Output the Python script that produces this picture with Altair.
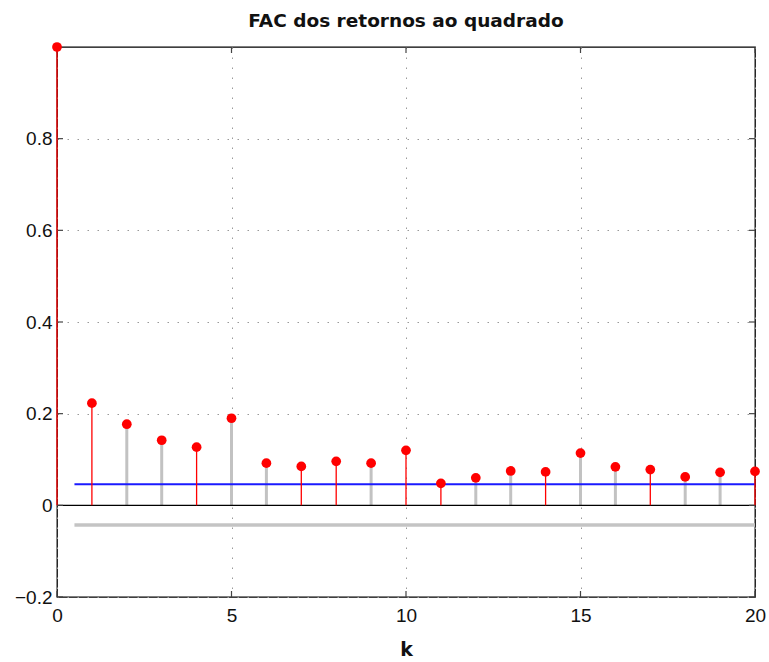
import altair as alt
import pandas as pd

# Sample autocorrelation of the squared returns, lags 0..20
lags = list(range(21))
acf = [1.000, 0.223, 0.177, 0.142, 0.127, 0.190, 0.092, 0.085, 0.096, 0.092,
       0.120, 0.048, 0.060, 0.075, 0.073, 0.114, 0.084, 0.078, 0.062, 0.072, 0.074]
stem_style = ["red", "red", "grey", "grey", "red", "grey", "grey", "red", "red", "grey",
              "red", "red", "grey", "grey", "red", "grey", "grey", "red", "grey", "grey", "red"]

# Confidence bounds drawn as horizontal segments
band_start, band_end = 0.5, 20
upper_bound = 0.046
lower_bound = -0.043

x_ticks = [0, 5, 10, 15, 20]
y_ticks = [-0.2, 0, 0.2, 0.4, 0.6, 0.8]
x_domain = [0, 20]
y_domain = [-0.2, 1.0]

W, H = 698, 550
TICK_LEN = 6

df = pd.DataFrame({"k": lags, "acf": acf, "style": stem_style})
df["zero"] = 0.0

bounds = pd.DataFrame({
    "x0": [band_start, band_start],
    "x1": [band_end, band_end],
    "y": [upper_bound, lower_bound],
    "which": ["upper", "lower"],
})
zero_line = pd.DataFrame({"x0": [x_domain[0]], "x1": [x_domain[1]], "y": [0.0]})
xt = pd.DataFrame({"v": x_ticks})
yt = pd.DataFrame({"v": y_ticks})

label_font = "Liberation Sans"

xs = alt.Scale(domain=x_domain, nice=False, zero=False)
ys = alt.Scale(domain=y_domain, nice=False, zero=False)

x_axis = alt.Axis(values=x_ticks, title="k", grid=True, domain=False, ticks=False,
                  labelFont=label_font, labelFontSize=19, labelPadding=9, labelColor="#111",
                  labelFlush=False,
                  titleFont="DejaVu Sans", titleFontSize=19, titleFontWeight="bold",
                  titlePadding=15, titleColor="#111",
                  gridColor="#9a9a9a", gridDash=[1.5, 8.5], gridWidth=1)
y_axis = alt.Axis(values=y_ticks, title=None, grid=True, domain=False, ticks=False,
                  format=".1~f",
                  labelFont=label_font, labelFontSize=19, labelPadding=5, labelColor="#111",
                  labelFlush=False,
                  gridColor="#9a9a9a", gridDash=[1.5, 8.5], gridWidth=1)

base = alt.Chart(df)

grey_stems = base.transform_filter(alt.datum.style == "grey").mark_rule(
    color="#c2c2c2", strokeWidth=3
).encode(
    x=alt.X("k:Q", scale=xs, axis=x_axis),
    y=alt.Y("zero:Q", scale=ys, axis=y_axis),
    y2="acf:Q",
)

zero_rule = alt.Chart(zero_line).mark_rule(color="black", strokeWidth=1.3).encode(
    x=alt.X("x0:Q", scale=xs), x2="x1:Q", y=alt.Y("y:Q", scale=ys)
)

upper_rule = alt.Chart(bounds).transform_filter(alt.datum.which == "upper").mark_rule(
    color="#1a1aff", strokeWidth=1.8
).encode(x=alt.X("x0:Q", scale=xs), x2="x1:Q", y=alt.Y("y:Q", scale=ys))

lower_rule = alt.Chart(bounds).transform_filter(alt.datum.which == "lower").mark_rule(
    color="#c4c4c4", strokeWidth=3.5
).encode(x=alt.X("x0:Q", scale=xs), x2="x1:Q", y=alt.Y("y:Q", scale=ys))

red_stems = base.transform_filter(alt.datum.style == "red").mark_rule(
    color="#ff0000", strokeWidth=1.3
).encode(
    x=alt.X("k:Q", scale=xs), y=alt.Y("zero:Q", scale=ys), y2="acf:Q"
)

dots = base.mark_circle(color="#ff0000", opacity=1, size=95).encode(
    x=alt.X("k:Q", scale=xs), y=alt.Y("acf:Q", scale=ys)
)

# Inward tick marks on all four sides of the box
tick_style = dict(color="#444", strokeWidth=1.2)
ticks_bottom = alt.Chart(xt).mark_rule(**tick_style).encode(
    x=alt.X("v:Q", scale=xs), y=alt.value(H), y2=alt.value(H - TICK_LEN))
ticks_top = alt.Chart(xt).mark_rule(**tick_style).encode(
    x=alt.X("v:Q", scale=xs), y=alt.value(0), y2=alt.value(TICK_LEN))
ticks_left = alt.Chart(yt).mark_rule(**tick_style).encode(
    y=alt.Y("v:Q", scale=ys), x=alt.value(0), x2=alt.value(TICK_LEN))
ticks_right = alt.Chart(yt).mark_rule(**tick_style).encode(
    y=alt.Y("v:Q", scale=ys), x=alt.value(W), x2=alt.value(W - TICK_LEN))

chart = alt.layer(
    grey_stems, lower_rule, upper_rule, zero_rule,
    ticks_bottom, ticks_top, ticks_left, ticks_right,
    red_stems, dots,
).properties(
    width=W,
    height=H,
    background="white",
    title=alt.TitleParams("FAC dos retornos ao quadrado", font="DejaVu Sans",
                          fontSize=18.5, fontWeight="bold", color="#111",
                          anchor="middle", offset=12),
    autosize=alt.AutoSizeParams(type="none"),
    padding={"left": 57, "top": 47, "right": 14, "bottom": 65},
).configure_view(
    stroke="black", strokeWidth=1.3
)

chart.save("out.html", embed_options={"renderer": "svg", "actions": False})
